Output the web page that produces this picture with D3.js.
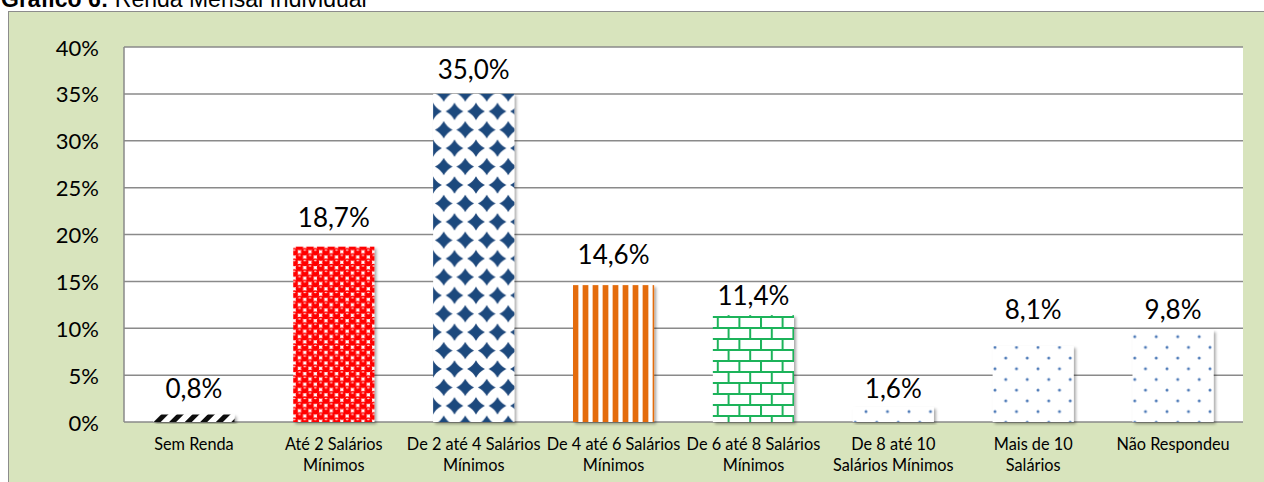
<!DOCTYPE html>
<html>
<head>
<meta charset="utf-8">
<script src="https://cdn.jsdelivr.net/npm/d3@7"></script>
<style>
  body{margin:0;background:#fff;}
  svg{display:block;}
  .title{font-family:"Liberation Sans",Arial,sans-serif;font-size:23px;fill:#000;}
  .ylab{font-family:Lato,"Open Sans",sans-serif;font-size:22px;fill:#000;}
  .vlab{font-family:Lato,"Open Sans",sans-serif;font-size:26px;fill:#000;}
  .xlab{font-family:Lato,"Open Sans",sans-serif;font-size:16.3px;fill:#000;}
</style>
</head>
<body>
<svg id="chart" width="1264" height="482"></svg>
<script>
// data
const categories = ["Sem Renda", "Até 2 Salários\nMínimos", "De 2 até 4 Salários\nMínimos",
    "De 4 até 6 Salários\nMínimos", "De 6 até 8 Salários\nMínimos", "De 8 até 10\nSalários Mínimos",
    "Mais de 10\nSalários", "Não Respondeu"];
const values = [0.8, 18.7, 35.0, 14.6, 11.4, 1.6, 8.1, 9.8];
const yTicks = [0, 5, 10, 15, 20, 25, 30, 35, 40];

// styling per bar (fill patterns + where excel left the labels)
const patternIds = ["pBlack", "pRed", "pNavy", "pOrange", "pBrick", "pDots", "pDots", "pDots"];
const labelGap = [17, 20, 15, 21, 10, 9, 27, 11];

const svg = d3.select("#chart");
const W = 1264, H = 482;
const m = {left:124, right:1243, top:47, bottom:422};

// outer frame
svg.append("rect").attr("x", 8.5).attr("y", 11.5).attr("width", W).attr("height", H)
    .attr("fill", "#d8e4bd").attr("stroke", "#8c8c8c").attr("stroke-width", 1);

// title (cut off at the top like the original)
let title = svg.append("text").attr("class", "title").attr("x", 1).attr("y", 7);
title.append("tspan").attr("font-weight", "bold").text("Gráfico 6:");
title.append("tspan").text(" Renda Mensal Individual");

const defs = svg.append("defs");

// shadow for the bars
const shadow = defs.append("filter").attr("id", "shadow")
    .attr("x", "-10%").attr("y", "-10%").attr("width", "130%").attr("height", "130%");
shadow.append("feDropShadow").attr("dx", 2).attr("dy", 2).attr("stdDeviation", 1.5)
    .attr("flood-color", "#000").attr("flood-opacity", 0.35);

// black diagonal dashes
let p = defs.append("pattern").attr("id", "pBlack").attr("patternUnits", "userSpaceOnUse")
    .attr("width", 11).attr("height", 11).attr("patternTransform", "rotate(45)");
p.append("rect").attr("width", 11).attr("height", 11).attr("fill", "#fff");
p.append("rect").attr("width", 5).attr("height", 11).attr("fill", "#111");

// red spheres (checkered)
p = defs.append("pattern").attr("id", "pRed").attr("patternUnits", "userSpaceOnUse")
    .attr("width", 10.6).attr("height", 10.6);
p.append("rect").attr("width", 10.6).attr("height", 10.6).attr("fill", "#fff");
[[2.65, 2.65], [7.95, 7.95], [-2.65, 7.95], [13.25, 2.65], [7.95, -2.65], [2.65, 13.25]].forEach(c => {
    p.append("circle").attr("cx", c[0]).attr("cy", c[1]).attr("r", 3.8).attr("fill", "#ff0000");
    p.append("ellipse").attr("cx", c[0]).attr("cy", c[1] - 1.7).attr("rx", 1.4).attr("ry", 0.7).attr("fill", "#ffd6d6");
});

// navy diamonds
p = defs.append("pattern").attr("id", "pNavy").attr("patternUnits", "userSpaceOnUse")
    .attr("width", 21.5).attr("height", 36.8).attr("x", 3).attr("y", 1);
p.append("rect").attr("width", 21.5).attr("height", 36.8).attr("fill", "#fff");
const dia = "M0,-8.8Q3,-3 8.8,0Q3,3 0,8.8Q-3,3 -8.8,0Q-3,-3 0,-8.8Z";
[[0, 0], [21.5, 0], [0, 36.8], [21.5, 36.8], [10.75, 18.4]].forEach(c => {
    p.append("path").attr("d", dia).attr("transform", `translate(${c[0]},${c[1]})`).attr("fill", "#1f497d");
});

// orange stripes
p = defs.append("pattern").attr("id", "pOrange").attr("patternUnits", "userSpaceOnUse")
    .attr("width", 10).attr("height", 10).attr("x", 2);
p.append("rect").attr("width", 10).attr("height", 10).attr("fill", "#fff");
p.append("rect").attr("x", 0).attr("width", 7).attr("height", 10).attr("fill", "#f6c9a4");
p.append("rect").attr("x", 1).attr("width", 5).attr("height", 10).attr("fill", "#e46c0a");

// green bricks
p = defs.append("pattern").attr("id", "pBrick").attr("patternUnits", "userSpaceOnUse")
    .attr("width", 21.6).attr("height", 22).attr("x", 4).attr("y", 316);
p.append("rect").attr("width", 21.6).attr("height", 22).attr("fill", "#fff");
p.append("rect").attr("y", 0).attr("width", 21.6).attr("height", 2).attr("fill", "#1db35a");
p.append("rect").attr("y", 11).attr("width", 21.6).attr("height", 2).attr("fill", "#1db35a");
p.append("rect").attr("x", 0).attr("y", 0).attr("width", 2).attr("height", 11).attr("fill", "#1db35a");
p.append("rect").attr("x", 10.8).attr("y", 11).attr("width", 2).attr("height", 11).attr("fill", "#1db35a");

// blue dots
p = defs.append("pattern").attr("id", "pDots").attr("patternUnits", "userSpaceOnUse")
    .attr("width", 21.5).attr("height", 21.4).attr("x", 4).attr("y", 3);
p.append("rect").attr("width", 21.5).attr("height", 21.4).attr("fill", "#fff");
[[2, 2], [12.75, 12.7]].forEach(c => {
    p.append("circle").attr("cx", c[0]).attr("cy", c[1]).attr("r", 1.5).attr("fill", "#4f7bb8");
});

// scales
const x = d3.scaleBand().domain(categories).range([m.left, m.right]).paddingInner(0.42).paddingOuter(0.21);
const y = d3.scaleLinear().domain([0, 40]).range([m.bottom, m.top]);

// plot area
svg.append("rect").attr("x", m.left).attr("y", m.top).attr("width", m.right - m.left)
    .attr("height", m.bottom - m.top).attr("fill", "#fff");

svg.append("g").selectAll("line").data(yTicks).join("line")
    .attr("x1", m.left).attr("x2", m.right)
    .attr("y1", d => y(d)).attr("y2", d => y(d))
    .attr("stroke", "#8a8a8a").attr("stroke-width", 1.5);

svg.append("line").attr("x1", m.left).attr("x2", m.left).attr("y1", m.top).attr("y2", m.bottom)
    .attr("stroke", "#8a8a8a").attr("stroke-width", 1.5);

// y axis labels
svg.append("g").selectAll("text").data(yTicks).join("text")
    .attr("class", "ylab")
    .attr("x", 99).attr("y", d => y(d))
    .attr("text-anchor", "end").attr("dominant-baseline", "central")
    .text(d => d + "%");

// bars
svg.append("g").selectAll("rect").data(values).join("rect")
    .attr("x", (d, i) => x(categories[i]))
    .attr("y", d => y(d))
    .attr("width", x.bandwidth())
    .attr("height", d => y(0) - y(d))
    .attr("fill", (d, i) => `url(#${patternIds[i]})`)
    .attr("filter", "url(#shadow)");

// value labels
const fmt = v => v.toFixed(1).replace(".", ",") + "%";
svg.append("g").selectAll("text").data(values).join("text")
    .attr("class", "vlab")
    .attr("x", (d, i) => x(categories[i]) + x.bandwidth() / 2)
    .attr("y", (d, i) => y(d) - labelGap[i])
    .attr("text-anchor", "middle")
    .text(fmt);

// category labels
const xl = svg.append("g").selectAll("text").data(categories).join("text")
    .attr("class", "xlab")
    .attr("text-anchor", "middle")
    .attr("transform", d => `translate(${x(d) + x.bandwidth() / 2},450)`);
xl.selectAll("tspan").data(d => d.split("\n")).join("tspan")
    .attr("x", 0).attr("dy", (d, i) => i === 0 ? 0 : 21)
    .text(d => d);
</script>
</body>
</html>
